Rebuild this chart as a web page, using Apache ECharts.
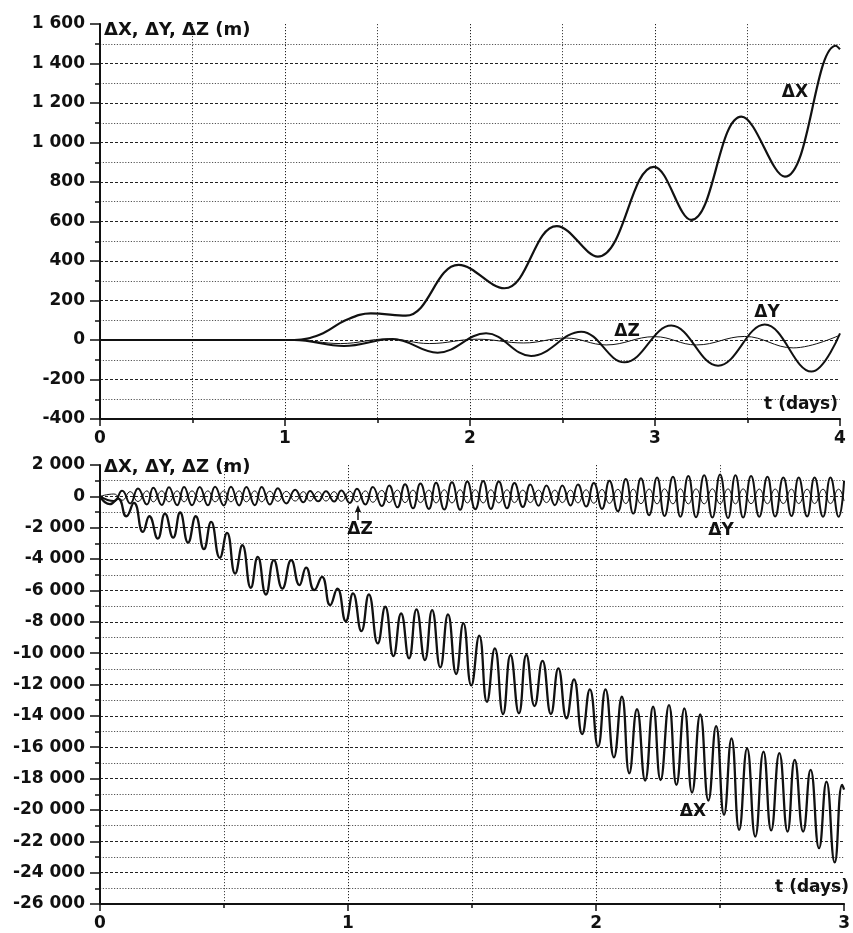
<!DOCTYPE html>
<html>
<head>
<meta charset="utf-8">
<script src="https://cdn.jsdelivr.net/npm/echarts@6/dist/echarts.min.js"></script>
<style>
html,body{margin:0;padding:0;background:#fff;}
#c{width:853px;height:933px;}
</style>
</head>
<body>
<div id="c"></div>
<script>
// ---------- Top panel (t in days, values in m) ----------
var topDX = [[0,0],[0.95,0],[1.05,0],[1.19,28],[1.33,101],[1.464,135],[1.653,123],[1.938,380],[2.186,262],[2.469,577],[2.691,422],[2.994,877],[3.196,608],[3.467,1131],[3.702,827],[3.978,1490],[4.0,1472]];
var topDY = [[0,0],[0.95,0],[1.05,0],[1.319,-30],[1.581,5],[1.825,-64],[2.087,34],[2.33,-81],[2.601,42],[2.835,-113],[3.088,73],[3.341,-130],[3.593,78],[3.846,-160],[4.0,34]];
var topDZ = [[0,0],[0.95,0],[1.05,0],[1.30,-18],[1.56,6],[1.78,-18],[2.04,4],[2.29,-15],[2.52,10],[2.736,-25],[2.998,17],[3.224,-25],[3.485,18],[3.747,-40],[4.0,25]];

// ---------- Bottom panel ----------
var botT_X = [0,0.040,0.073,0.106,0.137,0.173,0.199,0.233,0.262,0.295,0.323,0.355,0.386,0.419,0.448,0.483,0.512,0.545,0.574,0.608,0.636,0.669,0.701,0.735,0.771,0.804,0.831,0.864,0.895,0.928,0.957,0.991,1.020,1.054,1.084,1.120,1.150,1.183,1.214,1.246,1.276,1.310,1.339,1.372,1.403,1.436,1.465,1.497,1.529,1.560,1.592,1.625,1.655,1.689,1.719,1.752,1.784,1.818,1.848,1.881,1.911,1.944,1.975,2.008,2.038,2.072,2.104,2.134,2.165,2.198,2.230,2.260,2.294,2.324,2.356,2.387,2.420,2.453,2.484,2.516,2.546,2.577,2.609,2.642,2.675,2.706,2.739,2.772,2.801,2.835,2.865,2.899,2.929,2.962,2.992,3.0];
var botDX = [0,-500,-140,-1270,-420,-2270,-1270,-2690,-1100,-2630,-1030,-2950,-1270,-3370,-1630,-3920,-2330,-4920,-3120,-5830,-3860,-6260,-4070,-5880,-4070,-5660,-4540,-5980,-5130,-6940,-5880,-7960,-6190,-8590,-6260,-9380,-7040,-10190,-7470,-10330,-7210,-10440,-7260,-10910,-7530,-11330,-8080,-12060,-8880,-13100,-9700,-13890,-10120,-13840,-10120,-13370,-10490,-13880,-10970,-14160,-11670,-15160,-12310,-15960,-12310,-16640,-12780,-17660,-13580,-18130,-13420,-18090,-13310,-18400,-13520,-18890,-13900,-19400,-14650,-20310,-15430,-21270,-16070,-21700,-16280,-21310,-16380,-21380,-16810,-21380,-17450,-22440,-18190,-23350,-18400,-18700];
var botT_YZ = [0,0.056,0.089,0.122,0.153,0.189,0.215,0.249,0.278,0.311,0.339,0.371,0.402,0.435,0.464,0.499,0.528,0.561,0.590,0.624,0.652,0.685,0.717,0.751,0.787,0.820,0.847,0.880,0.911,0.944,0.973,1.007,1.036,1.070,1.100,1.136,1.166,1.199,1.230,1.262,1.292,1.326,1.355,1.388,1.419,1.452,1.481,1.513,1.545,1.576,1.608,1.641,1.671,1.705,1.735,1.768,1.800,1.834,1.864,1.897,1.927,1.960,1.991,2.024,2.054,2.088,2.120,2.150,2.181,2.214,2.246,2.276,2.310,2.340,2.372,2.403,2.436,2.469,2.500,2.532,2.562,2.593,2.625,2.658,2.691,2.722,2.755,2.788,2.817,2.851,2.881,2.915,2.945,2.978,3.0];
var botDY = [0,-300,350,-450,500,-520,550,-550,580,-560,600,-570,600,-570,620,-580,620,-580,600,-560,600,-520,520,-450,420,-380,340,-320,320,-330,380,-420,480,-520,600,-620,700,-700,780,-760,820,-800,860,-840,900,-850,950,-820,980,-800,950,-760,850,-680,750,-600,700,-560,700,-580,750,-650,850,-800,1000,-950,1100,-1100,1150,-1200,1200,-1250,1250,-1300,1300,-1330,1350,-1350,1400,-1380,1350,-1350,1300,-1300,1250,-1280,1200,-1250,1200,-1280,1200,-1300,1200,-1300,1000];
var botDZ = [0,150,-250,300,-330,350,-350,350,-350,350,-350,350,-350,350,-350,350,-350,350,-350,350,-350,330,-320,320,-300,300,-300,300,-300,300,-320,330,-350,350,-380,380,-400,400,-400,400,-400,400,-420,420,-420,420,-420,420,-420,420,-420,420,-400,400,-400,400,-400,400,-400,400,-420,420,-440,440,-450,450,-460,460,-470,470,-480,480,-480,480,-480,480,-480,480,-480,480,-480,480,-470,470,-470,470,-460,460,-460,460,-460,460,-460,460,-300];

var topXTicks = [0, 4, 1];
var topYTicks = [-400, 1600, 200];
var botXTicks = [0, 3, 1];
var botYTicks = [-26000, 2000, 2000];

function zip(t, v){ var o=[]; for(var i=0;i<t.length;i++){o.push([t[i], v[i]]);} return o; }
function fmt(v){
  var s = Math.abs(v).toString();
  var out = '';
  while (s.length > 3) { out = ' ' + s.slice(-3) + out; s = s.slice(0, -3); }
  out = s + out;
  return (v < 0 ? '-' : '') + out;
}

var INK = '#111';
var FONT = 'DejaVu Sans';

function xAxis(gi, ticks){
  return {
    type:'value', gridIndex:gi, min:ticks[0], max:ticks[1], interval:ticks[2],
    axisLine:{show:true, onZero:false, lineStyle:{color:INK, width:2}},
    axisTick:{show:true, length:7, lineStyle:{color:INK, width:1.5}},
    minorTick:{show:true, splitNumber:2, length:4, lineStyle:{color:INK, width:1.5}},
    axisLabel:{color:INK, fontFamily:FONT, fontWeight:'bold', fontSize:17, margin:11},
    splitLine:{show:true, showMinLine:false, showMaxLine:false, lineStyle:{color:'#222', width:1, type:[1.2,1.8]}},
    minorSplitLine:{show:true, lineStyle:{color:'#444', width:1, type:[1.2,1.8]}}
  };
}
function yAxis(gi, ticks){
  return {
    type:'value', gridIndex:gi, min:ticks[0], max:ticks[1], interval:ticks[2],
    axisLine:{show:true, onZero:false, lineStyle:{color:INK, width:2}},
    axisTick:{show:true, length:10, lineStyle:{color:INK, width:1.5}},
    minorTick:{show:true, splitNumber:2, length:5, lineStyle:{color:INK, width:1.5}},
    axisLabel:{color:INK, fontFamily:FONT, fontWeight:'bold', fontSize:17, margin:15, formatter:fmt},
    splitLine:{show:true, showMinLine:false, showMaxLine:false, lineStyle:{color:'#222', width:1, type:[3,2]}},
    minorSplitLine:{show:true, lineStyle:{color:'#555', width:1, type:[1.2,1.6]}}
  };
}
function line(xi, data, w, z, sm){
  return {type:'line', xAxisIndex:xi, yAxisIndex:xi, data:data, showSymbol:false, smooth:sm,
    lineStyle:{color:INK, width:w}, z:z, silent:true};
}
function txt(s, x, y, size, align){
  return {type:'text', x:x, y:y, z:100, style:{text:s, fill:INK, fontFamily:FONT, fontWeight:'bold', fontSize:size, align:align||'center', verticalAlign:'middle'}};
}

var chart = echarts.init(document.getElementById('c'), null, {renderer:'canvas'});
chart.setOption({
  animation:false,
  backgroundColor:'#fff',
  grid:[
    {left:100, right:13, top:24, bottom:514},
    {left:100, right:1, top:465, bottom:29}
  ],
  xAxis:[xAxis(0, topXTicks), xAxis(1, botXTicks)],
  yAxis:[yAxis(0, topYTicks), yAxis(1, botYTicks)],
  series:[
    line(0, topDZ, 1, 2, 0.4),
    line(0, topDY, 2, 3, 0.4),
    line(0, topDX, 2.2, 4, 0.4),
    line(1, zip(botT_YZ, botDZ), 1, 2, 0.5),
    line(1, zip(botT_YZ, botDY), 2, 3, 0.5),
    line(1, zip(botT_X, botDX), 2.3, 4, 0.5)
  ],
  graphic:[
    txt('ΔX, ΔY, ΔZ (m)', 104, 30, 18, 'left'),
    txt('t (days)', 838, 405, 17, 'right'),
    txt('ΔX', 795, 93, 17),
    txt('ΔY', 767, 313, 17),
    txt('ΔZ', 627, 332, 17),
    txt('ΔX, ΔY, ΔZ (m)', 104, 467, 18, 'left'),
    txt('t (days)', 849, 888, 17, 'right'),
    txt('ΔZ', 360, 530, 17),
    txt('ΔY', 721, 531, 17),
    txt('ΔX', 693, 812, 17),
    {type:'line', z:100, shape:{x1:358, y1:520, x2:358, y2:509}, style:{stroke:INK, lineWidth:1.5}},
    {type:'polygon', z:100, shape:{points:[[355,512],[361,512],[358,505]]}, style:{fill:INK}}
  ]
});
</script>
</body>
</html>
